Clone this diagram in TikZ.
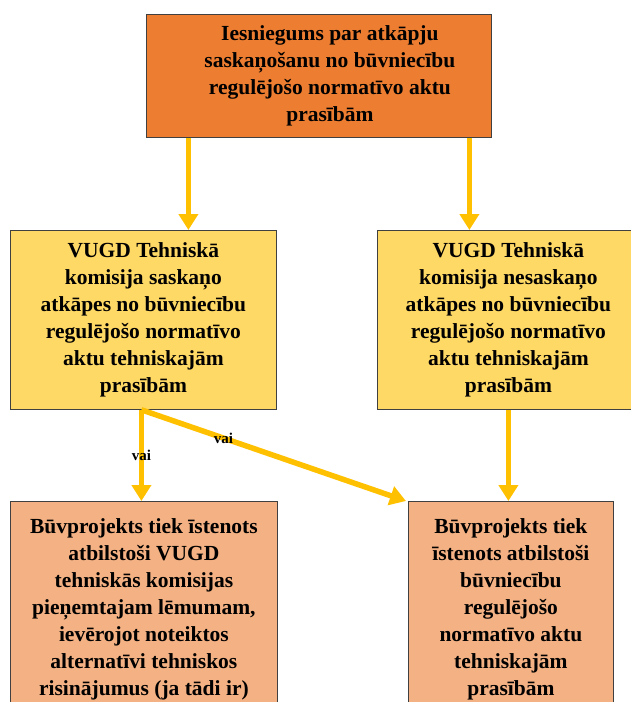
\documentclass[tikz,border=0pt]{standalone}
\usepackage{fontspec}
\setmainfont{Liberation Serif}
\usetikzlibrary{arrows.meta}
\definecolor{topfill}{HTML}{ED7D31}
\definecolor{midfill}{HTML}{FFD966}
\definecolor{endfill}{HTML}{F4B183}
\definecolor{flowcol}{HTML}{FFC000}
\tikzset{
  stepnode/.style = {align=center, inner sep=0pt, text centered, draw=black!75, line width=0.8pt,
    font=\bfseries\fontsize{21.5}{27}\selectfont, anchor=north west},
  box_top/.style = {stepnode, fill=topfill, minimum width=345pt, minimum height=123pt},
  box_mid/.style = {stepnode, fill=midfill, minimum width=266pt, minimum height=179pt},
  box_end/.style = {stepnode, fill=endfill, minimum height=215pt},
  flow/.style = {draw=flowcol, line width=5.5pt, -{Triangle[width=19pt,length=16pt]}},
  orlabel/.style = {font=\bfseries\fontsize{15}{17}\selectfont, inner sep=1pt},
}

\begin{document}
\begin{tikzpicture}[x=1pt, y=-1pt]
  \useasboundingbox (0,0) rectangle (631,702);

  \node [box_top] (req) at (146,14)
    {\hspace*{22pt}Iesniegums par atkāpju\\ \hspace*{22pt}saskaņošanu no būvniecību\\ \hspace*{22pt}regulējošo normatīvo aktu\\ \hspace*{22pt}prasībām};

  \node [box_mid] (agree) at (10,230)
    {VUGD Tehniskā\\ komisija saskaņo\\ atkāpes no būvniecību\\ regulējošo normatīvo\\ aktu tehniskajām\\ prasībām};
  \node [box_mid, minimum width=262pt] (refuse) at (377,230)
    {VUGD Tehniskā\\ komisija nesaskaņo\\ atkāpes no būvniecību\\ regulējošo normatīvo\\ aktu tehniskajām\\ prasībām};

  \node [box_end, minimum width=267pt] (alt) at (10,501)
    {Būvprojekts tiek īstenots\\ atbilstoši VUGD\\ tehniskās komisijas\\ pieņemtajam lēmumam,\\ ievērojot noteiktos\\ alternatīvi tehniskos\\ risinājumus (ja tādi ir)};
  \node [box_end, minimum width=205pt] (norm) at (408,501)
    {Būvprojekts tiek\\ īstenots atbilstoši\\ būvniecību\\ regulējošo\\ normatīvo aktu\\ tehniskajām\\ prasībām};

  % arrows
  \draw [flow] ([xshift=45pt]agree.north |- req.south) -- ([xshift=45pt]agree.north);
  \draw [flow] ([xshift=-39pt]refuse.north |- req.south) -- ([xshift=-39pt]refuse.north);
  \draw [flow] ([xshift=-2pt]agree.south) -- ([xshift=-2pt]agree.south |- alt.north) node [orlabel, pos=0.5] {vai};
  \draw [flow] ([xshift=-2pt]agree.south) -- ([xshift=-2pt]norm.north west) node [orlabel, pos=0.31] {vai};
  \draw [flow] (refuse.south) -- (refuse.south |- norm.north);
\end{tikzpicture}
\end{document}
